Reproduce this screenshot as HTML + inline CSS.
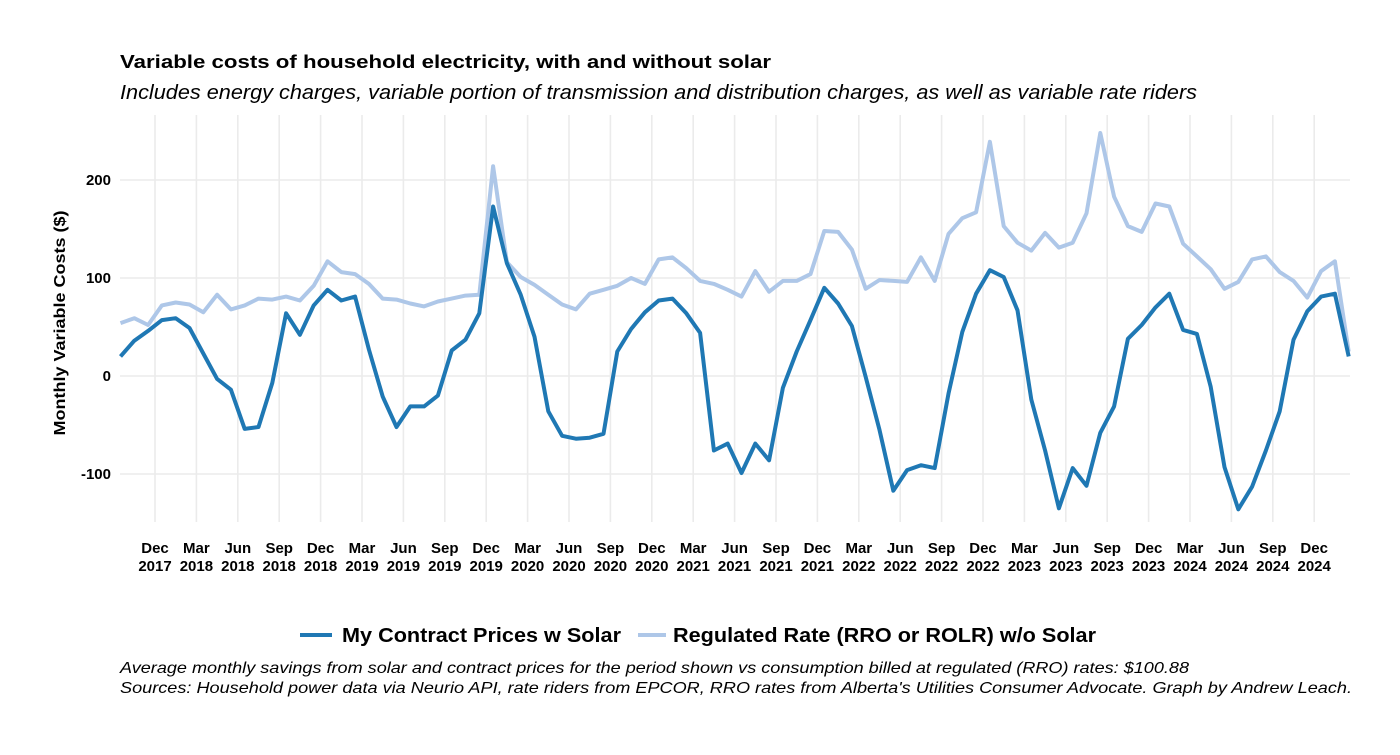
<!DOCTYPE html>
<html><head><meta charset="utf-8"><style>
body{margin:0;background:#fff;}
svg text{font-family:"Liberation Sans",Arial,sans-serif;}
</style></head><body>
<svg id="chart" width="1400" height="750" xmlns="http://www.w3.org/2000/svg">
<rect width="1400" height="750" fill="#fff"/>
<text x="120" y="68" font-size="18" font-weight="bold" fill="#000" textLength="651" lengthAdjust="spacingAndGlyphs">Variable costs of household electricity, with and without solar</text>
<text x="120" y="99" font-size="20" font-style="italic" fill="#000" textLength="1077" lengthAdjust="spacingAndGlyphs">Includes energy charges, variable portion of transmission and distribution charges, as well as variable rate riders</text>
<g id="grid"></g>
<g id="yticks"></g>
<g id="xticks"></g>
<g id="series"></g>
<text transform="translate(65,323) rotate(-90)" text-anchor="middle" font-size="16" font-weight="bold" textLength="225" lengthAdjust="spacingAndGlyphs">Monthly Variable Costs ($)</text>
<g>
<g>
<line x1="300" y1="635" x2="332" y2="635" stroke="#1f78b4" stroke-width="4"/>
<text x="342" y="642" font-size="20" font-weight="bold" textLength="279" lengthAdjust="spacingAndGlyphs">My Contract Prices w Solar</text>
</g>
<g>
<line x1="638" y1="635" x2="666" y2="635" stroke="#aec7e8" stroke-width="4"/>
<text x="673" y="642" font-size="20" font-weight="bold" textLength="423" lengthAdjust="spacingAndGlyphs">Regulated Rate (RRO or ROLR) w/o Solar</text>
</g>
</g>
<text x="120" y="673" font-size="16" font-style="italic" textLength="1069" lengthAdjust="spacingAndGlyphs">Average monthly savings from solar and contract prices for the period shown vs consumption billed at regulated (RRO) rates: $100.88</text>
<text x="120" y="693" font-size="16" font-style="italic" textLength="1232" lengthAdjust="spacingAndGlyphs">Sources: Household power data via Neurio API, rate riders from EPCOR, RRO rates from Alberta's Utilities Consumer Advocate. Graph by Andrew Leach.</text>
</svg>
<script>
// Monthly data, Sep 2017 .. Feb 2025
const contractSolar = [20,36,46,57,59,49,23,-3,-14,-54,-52,-7,64,42,72,88,77,81,27,-21,-52,-31,-31,-20,26,37,64,173,115,83,
40,-36,-61,-64,-63,-59,25,48,65,77,79,64,44,-76,-69,-99,-69,-86,-12,25,57,90,74,51,-1,-55,-117,-96,-91,-94,
-18,45,84,108,101,67,-24,-76,-135,-94,-112,-58,-31,38,52,70,84,47,43,-11,-93,-136,-113,-76,-36,37,66,81,84,20];
const regulatedRate = [54,59,52,72,75,73,65,83,68,72,79,78,81,77,92,117,106,104,94,79,78,74,71,76,79,82,83,214,116,101,
93,83,73,68,84,88,92,100,94,119,121,110,97,94,88,81,107,86,97,97,104,148,147,129,89,98,97,96,121,97,
145,161,167,239,153,136,128,146,131,136,166,248,183,153,147,176,173,135,122,109,89,96,119,122,106,97,80,107,117,25];
const yTicks = [-100,0,100,200];
const tickMonths = ["Dec","Mar","Jun","Sep"];
const startYear = 2017, startMonth = 8; // Sep (0-based)

const NS="http://www.w3.org/2000/svg";
const X0=120.5, DX=13.8, Y0=376, YS=0.98;
const PL=120, PR=1350, PT=115, PB=522;
function xs(i){return X0+i*DX;}
function ys(v){return Y0-v*YS;}
function mk(tag,attrs,parent){const e=document.createElementNS(NS,tag);for(const k in attrs)e.setAttribute(k,attrs[k]);parent.appendChild(e);return e;}
const grid=document.getElementById('grid'), yt=document.getElementById('yticks'), xt=document.getElementById('xticks'), ser=document.getElementById('series');

for(let i=0;i<contractSolar.length;i++){
  const m=(startMonth+i)%12;
  if(m%3!==2) continue;
  if(i<1) continue;
  const x=xs(i-0.5);
  if(x>PR) break;
  const year=startYear+Math.floor((startMonth+i)/12);
  const g=mk('line',{x1:x,x2:x,y1:PT,y2:PB,stroke:'#ebebeb','stroke-width':1.6},grid);
  
  
  const names={11:"Dec",2:"Mar",5:"Jun",8:"Sep"};
  const t=mk('text',{x:x,y:553,'text-anchor':'middle','font-size':15,'font-weight':'bold'},xt);
  
  
  const s1=mk('tspan',{x:x,dy:0},t); s1.textContent=names[m];
  const s2=mk('tspan',{x:x,dy:18},t); s2.textContent=year;
}
yTicks.forEach(v=>{
  const y=ys(v);
  const g=mk('line',{x1:PL,x2:PR,y1:y,y2:y,stroke:'#ebebeb','stroke-width':1.6},grid);
  
  
  const t=mk('text',{x:111,y:y+5,'text-anchor':'end','font-size':15,'font-weight':'bold'},yt);
  
  
  t.textContent=v;
});
function line(data,color,name){
  const d=data.map((v,i)=>(i?'L':'M')+xs(i).toFixed(1)+','+ys(v).toFixed(1)).join(' ');
  const p=mk('path',{d:d,fill:'none',stroke:color,'stroke-width':4,'stroke-linejoin':'round'},ser);
  
  
}
line(regulatedRate,'#aec7e8','regulated-rate-line');
line(contractSolar,'#1f78b4','contract-solar-line');
</script>
</body></html>
